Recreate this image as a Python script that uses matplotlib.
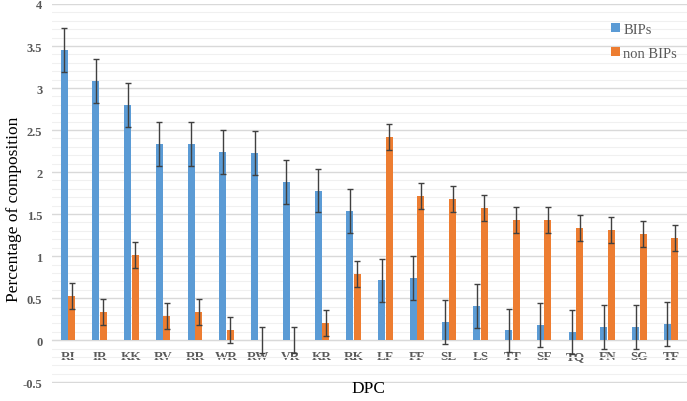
import numpy as np
import matplotlib.pyplot as plt
from matplotlib.ticker import MultipleLocator

# DPC categories and mean percentages
dpc = ['RI', 'IR', 'KK', 'RV', 'RR', 'WR', 'RW', 'VR', 'KR', 'RK',
       'LF', 'FF', 'SL', 'LS', 'TT', 'SF', 'TQ', 'FN', 'SG', 'TF']
bips = [3.45, 3.08, 2.80, 2.33, 2.33, 2.24, 2.23, 1.88, 1.78, 1.54,
        0.71, 0.74, 0.22, 0.41, 0.115, 0.18, 0.10, 0.155, 0.155, 0.19]
non_bips = [0.53, 0.33, 1.01, 0.29, 0.34, 0.12, 0.0, 0.0, 0.20, 0.79,
            2.42, 1.72, 1.68, 1.57, 1.43, 1.43, 1.33, 1.31, 1.26, 1.22]
bips_err = [0.26] * len(dpc)
non_bips_err = [0.155] * len(dpc)

serif = 'Liberation Serif'
grey = '#595959'

fig = plt.figure(figsize=(6.87, 4.02), dpi=100)
ax = fig.add_axes([52/687, 18/402, 635/687, 379/402])

x = np.arange(len(dpc))
w = 0.22
err_kw = dict(ecolor='#404040', elinewidth=1, capsize=2.5, capthick=1)
ax.bar(x - 0.12, bips, w, yerr=bips_err, color='#5B9BD5', label='BIPs',
       error_kw=err_kw, zorder=3)
ax.bar(x + 0.12, non_bips, w, yerr=non_bips_err, color='#ED7D31', label='non BIPs',
       error_kw=err_kw, zorder=3)

ax.set_xlim(-0.5, len(dpc) - 0.5)
ax.set_ylim(-0.51, 4)
ax.yaxis.set_major_locator(MultipleLocator(0.5))
ax.yaxis.set_minor_locator(MultipleLocator(0.1))
ax.grid(axis='y', which='major', color='#D9D9D9', linewidth=1.0, zorder=0)
ax.grid(axis='y', which='minor', color='#F0F0F0', linewidth=0.8, zorder=0)
ax.set_axisbelow(True)

for s in ['top', 'right', 'left']:
    ax.spines[s].set_visible(False)
ax.spines['bottom'].set_position(('data', 0))
ax.spines['bottom'].set_color('#D9D9D9')

ax.set_xticks(x)
ax.set_xticklabels(dpc, fontfamily=serif, fontweight='bold', fontsize=9.5, color=grey)
ax.tick_params(axis='x', length=0, pad=7)
ax.tick_params(axis='y', which='both', length=0, pad=7)
ax.set_yticks(np.arange(-0.5, 4.01, 0.5))
ax.set_yticklabels(['-0.5', '0', '0.5', '1', '1.5', '2', '2.5', '3', '3.5', '4'],
                   fontfamily=serif, fontweight='bold', fontsize=9, color=grey)

fig.text(0.02, 0.48, 'Percentage of composition', rotation=90, ha='center', va='center',
         fontfamily=serif, fontsize=12.5)
fig.text(368/687, 1 - 389/402, 'DPC', ha='center', va='center',
         fontfamily=serif, fontsize=12.5)

leg = ax.legend(loc='upper right', bbox_to_anchor=(1.005, 0.985), frameon=False,
                prop={'family': serif, 'size': 10.5}, handlelength=0.6, handleheight=0.6,
                handletextpad=0.25, labelspacing=0.75)
for t in leg.get_texts():
    t.set_color(grey)

fig.savefig('out.png', dpi=100)
